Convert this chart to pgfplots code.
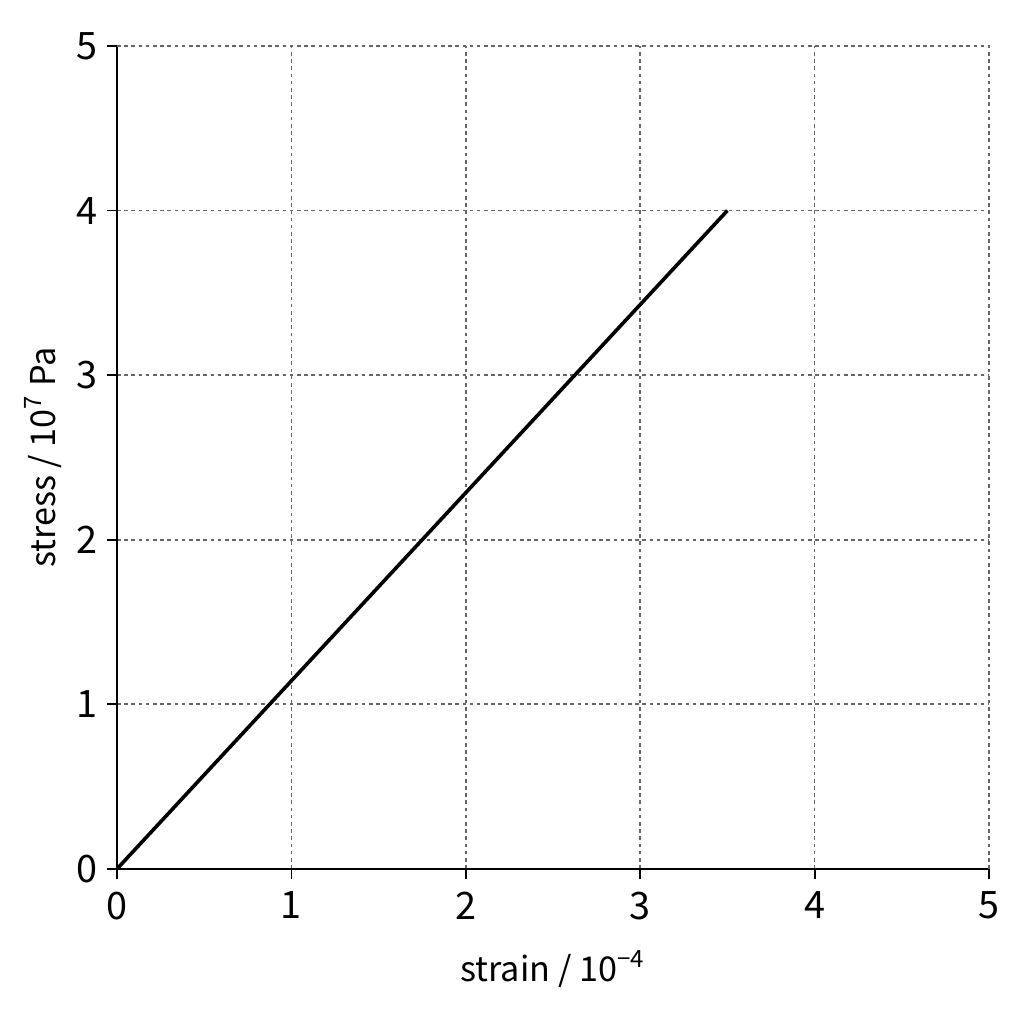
\documentclass[border=0pt]{standalone}
\usepackage{fontspec}
\setmainfont{Noto Sans CJK JP}
\usepackage{pgfplots}
\pgfplotsset{compat=1.18}

\begin{document}
\begin{tikzpicture}
  \begin{axis}[
    scale only axis,
    width=8.516cm, height=8.037cm,
    xmin=0, xmax=5, ymin=0, ymax=5,
    xtick={0,1,2,3,4,5}, ytick={0,1,2,3,4,5},
    axis x line*=bottom, axis y line*=left,
    axis line style={black, line width=0.7pt, -},
    tick style={black, line width=0.5pt},
    tick align=outside,
    major tick length=0.1cm,
    grid=major,
    major grid style={black!60, dash pattern=on 1pt off 1pt, line width=0.45pt},
    xlabel={strain / 10\textsuperscript{−4}},
    ylabel={stress / 10\textsuperscript{7} Pa},
    xlabel style={yshift=-0.06cm},
    ylabel style={yshift=-0.1cm},
    yticklabel style={xshift=0.03cm},
    ticklabel style={font=\fontsize{10.5}{12}\selectfont},
    label style={font=\fontsize{9.5}{12}\selectfont},
    /pgf/number format/assume math mode=true,
    clip=false,
  ]
    % top and right borders as dotted lines
    \draw[black!60, dash pattern=on 1pt off 1pt, line width=0.45pt] (axis cs:0,5) -- (axis cs:5,5) -- (axis cs:5,0);
    \addplot[black, line width=1pt, no marks] coordinates {
      (0,0)
      (3.5,4)
    };
  \end{axis}
  \useasboundingbox (-1.143cm,-1.514cm) rectangle (8.516cm+0.342cm, 8.037cm+0.449cm);
\end{tikzpicture}
\end{document}
